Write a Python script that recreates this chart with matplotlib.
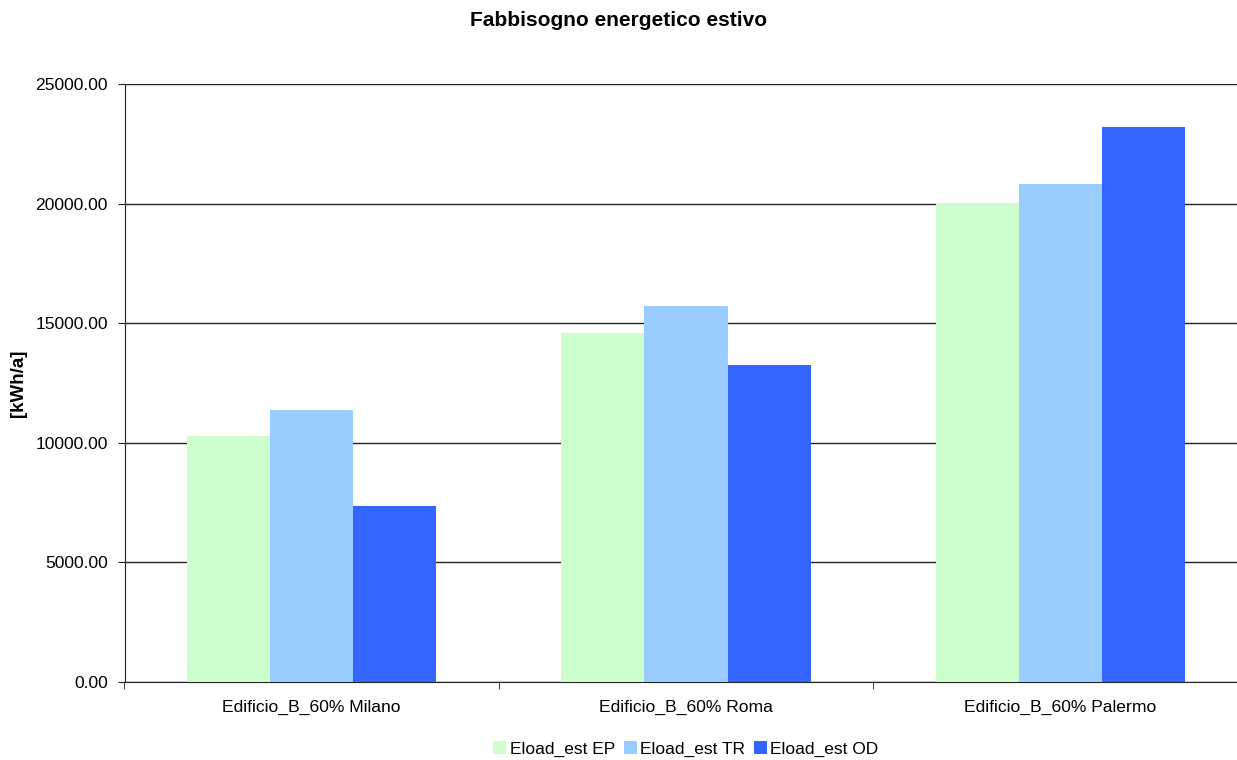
import numpy as np
import matplotlib.pyplot as plt
from matplotlib.ticker import FixedLocator, FuncFormatter

plt.rcParams['font.family'] = ['Liberation Sans', 'DejaVu Sans']

categories = ["Edificio_B_60% Milano", "Edificio_B_60% Roma", "Edificio_B_60% Palermo"]
series_names = ["Eload_est EP", "Eload_est TR", "Eload_est OD"]
ep = [10280, 14590, 20025]
tr = [11370, 15720, 20820]
od = [7360, 13250, 23200]
colors = ["#CCFFCC", "#99CCFF", "#3366FF"]


def main():
    fig = plt.figure(figsize=(12.37, 7.6), dpi=100)
    ax = fig.add_axes([124.5 / 1237, 1 - 682 / 760, 1123 / 1237, 598 / 760])

    x = np.arange(len(categories))
    w = 1 / 4.5
    for i, (vals, name) in enumerate(zip([ep, tr, od], series_names)):
        ax.bar(x + (i - 1) * w, vals, w, color=colors[i], label=name, zorder=3)

    ax.set_xlim(-0.5, len(categories) - 0.5)
    ax.set_ylim(0, 25000)
    ax.set_yticks(np.arange(0, 25001, 5000))
    ax.yaxis.set_major_formatter(FuncFormatter(lambda v, p: "%.2f" % v))
    ax.grid(axis='y', color='#222222', linewidth=1.0, zorder=1)

    ax.set_xticks(x)
    ax.set_xticklabels(categories)
    ax.xaxis.set_minor_locator(FixedLocator(np.arange(-0.5, len(categories), 1)))
    ax.tick_params(axis='x', which='major', length=0, pad=13, labelsize=12.6)
    ax.tick_params(axis='x', which='minor', length=5, direction='out', color='#222222')
    ax.tick_params(axis='y', length=5, direction='out', labelsize=12.6, pad=7, color='#222222')

    for s in ['top', 'right']:
        ax.spines[s].set_visible(False)
    ax.spines['left'].set_color('#222222')
    ax.spines['bottom'].set_color('#222222')

    ax.set_ylabel("[kWh/a]", fontsize=13.5, fontweight='bold', labelpad=6)
    fig.text(0.5, 1 - 20 / 760, "Fabbisogno energetico estivo", ha='center', va='center',
             fontsize=15, fontweight='bold')

    fig.legend(loc='center', bbox_to_anchor=(686 / 1237, 1 - 749 / 760), ncol=3,
               frameon=False, fontsize=12.5, handlelength=0.75, handleheight=0.75,
               handletextpad=0.2, columnspacing=0.5)

    fig.savefig("out.png", dpi=100)


if __name__ == "__main__":
    main()
